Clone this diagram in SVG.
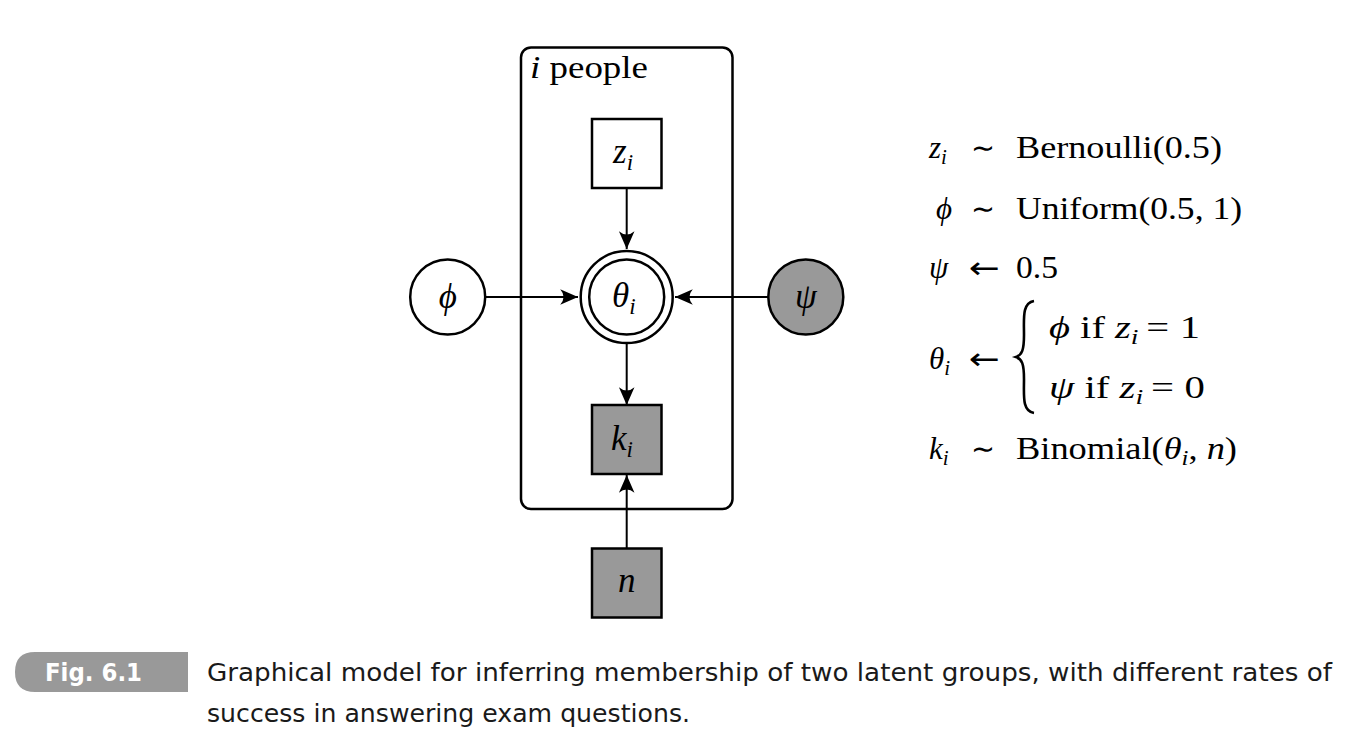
<svg xmlns="http://www.w3.org/2000/svg" width="1354" height="746" viewBox="0 0 1354 746">
<style>
.node{stroke:#000;stroke-width:2.5}
.open{fill:#fff}
.obs{fill:#999}
.edge{stroke:#000;stroke-width:2;fill:none}
.m{font-family:"Liberation Serif","DejaVu Serif",serif;font-size:35px;fill:#000}
.pl{font-family:"Liberation Serif","DejaVu Serif",serif;font-size:32px;fill:#000}
.mi{font-style:italic}
.eq{font-family:"Liberation Serif","DejaVu Serif",serif;font-size:31px;fill:#000}
.sym{font-family:"DejaVu Sans","Liberation Sans",sans-serif;font-size:30px;fill:#000}
.sub{font-size:21px;font-style:italic}
.nsub{font-size:23px;font-style:italic}
.cap{font-family:"DejaVu Sans","Liberation Sans",sans-serif;font-size:24px;fill:#1a1a1a}
</style>
<defs>
<marker id="arr" markerUnits="userSpaceOnUse" markerWidth="20" markerHeight="20" viewBox="-17 -8 18 16" refX="0" refY="0" orient="auto">
<path d="M0,0 L-16,-7 Q-10,0 -16,7 Z" fill="#000"/>
</marker>
</defs>
<rect id="bg" x="0" y="0" width="1354" height="746" fill="#fff"/>

<g id="plate">
<rect x="521" y="47.5" width="211.5" height="461.5" rx="10" fill="none" stroke="#000" stroke-width="2.5"/>
<text x="530" y="78" class="pl" textLength="118" lengthAdjust="spacingAndGlyphs"><tspan class="mi">i</tspan><tspan dx="8">people</tspan></text>
</g>

<g id="edges">
<line class="edge" x1="626.7" y1="188" x2="626.7" y2="249" marker-end="url(#arr)"/>
<line class="edge" x1="485.5" y1="297" x2="578" y2="297" marker-end="url(#arr)"/>
<line class="edge" x1="768" y1="297" x2="675" y2="297" marker-end="url(#arr)"/>
<line class="edge" x1="626.7" y1="343.5" x2="626.7" y2="405" marker-end="url(#arr)"/>
<line class="edge" x1="626.7" y1="548" x2="626.7" y2="475" marker-end="url(#arr)"/>
</g>

<g id="z">
<rect class="node open" x="592" y="119" width="69.5" height="69"/>
<text x="613" y="163" class="m mi">z<tspan class="nsub" dy="7">i</tspan></text>
</g>

<g id="theta">
<circle class="node open" cx="626.7" cy="297" r="46"/>
<circle class="node open" cx="626.7" cy="297" r="37.5"/>
<text x="612" y="307" class="m mi">θ<tspan class="nsub" dy="7">i</tspan></text>
</g>

<g id="phi">
<circle class="node open" cx="447.7" cy="297" r="37.5"/>
<text x="447.7" y="308" class="m mi" text-anchor="middle">ϕ</text>
</g>

<g id="psi">
<circle class="node obs" cx="805.8" cy="297" r="37.5"/>
<text x="805.8" y="308" class="m mi" text-anchor="middle">ψ</text>
</g>

<g id="k">
<rect class="node obs" x="592" y="405" width="69.5" height="69"/>
<text x="611" y="450" class="m mi">k<tspan class="nsub" dy="7">i</tspan></text>
</g>

<g id="n">
<rect class="node obs" x="592" y="548.5" width="69.5" height="69"/>
<text x="626.7" y="592" class="m mi" text-anchor="middle">n</text>
</g>

<g id="equations">
<text x="929" y="158" class="eq"><tspan class="mi">z</tspan><tspan class="sub" dy="6">i</tspan></text>
<text x="971" y="158" class="sym" textLength="24" lengthAdjust="spacingAndGlyphs">∼</text>
<text x="1016" y="158" class="eq" textLength="206" lengthAdjust="spacingAndGlyphs">Bernoulli(0.5)</text>

<text x="936" y="219" class="eq mi">ϕ</text>
<text x="971" y="219" class="sym" textLength="24" lengthAdjust="spacingAndGlyphs">∼</text>
<text x="1016" y="219" class="eq" textLength="226" lengthAdjust="spacingAndGlyphs">Uniform(0.5, 1)</text>

<text x="929" y="278" class="eq mi">ψ</text>
<text x="969" y="278" class="sym" textLength="31" lengthAdjust="spacingAndGlyphs">←</text>
<text x="1016" y="278" class="eq" textLength="42" lengthAdjust="spacingAndGlyphs">0.5</text>

<text x="929" y="369" class="eq"><tspan class="mi">θ</tspan><tspan class="sub" dy="6">i</tspan></text>
<text x="969" y="369" class="sym" textLength="31" lengthAdjust="spacingAndGlyphs">←</text>
<path d="M1034,301 C1022,303 1024,318 1024,335 C1024,350 1022,355 1016,357 C1022,359 1024,364 1024,379 C1024,396 1022,411 1034,413" fill="none" stroke="#000" stroke-width="2.6"/>
<text x="1049" y="338" class="eq" textLength="151" lengthAdjust="spacingAndGlyphs"><tspan class="mi">ϕ</tspan> if <tspan class="mi">z</tspan><tspan class="sub" dy="6">i</tspan><tspan dy="-6" dx="6">=</tspan><tspan dx="8">1</tspan></text>
<text x="1049" y="398" class="eq" textLength="156" lengthAdjust="spacingAndGlyphs"><tspan class="mi">ψ</tspan> if <tspan class="mi">z</tspan><tspan class="sub" dy="6">i</tspan><tspan dy="-6" dx="6">=</tspan><tspan dx="8">0</tspan></text>

<text x="929" y="459" class="eq"><tspan class="mi">k</tspan><tspan class="sub" dy="6">i</tspan></text>
<text x="971" y="459" class="sym" textLength="24" lengthAdjust="spacingAndGlyphs">∼</text>
<text x="1016" y="459" class="eq" textLength="221" lengthAdjust="spacingAndGlyphs">Binomial(<tspan class="mi">θ</tspan><tspan class="sub" dy="6">i</tspan><tspan dy="-6">, </tspan><tspan class="mi">n</tspan>)</text>
</g>

<g id="caption">
<path d="M188,652 L35,652 Q15,652 15,672 L15,672 Q15,692 35,692 L188,692 Z" fill="#999"/>
<text x="45" y="681" font-family="DejaVu Sans,Liberation Sans,sans-serif" font-size="25" font-weight="bold" fill="#fff" textLength="97" lengthAdjust="spacingAndGlyphs">Fig. 6.1</text>
<text x="207" y="681" class="cap" textLength="1125" lengthAdjust="spacingAndGlyphs">Graphical model for inferring membership of two latent groups, with different rates of</text>
<text x="207" y="722" class="cap" textLength="483" lengthAdjust="spacingAndGlyphs">success in answering exam questions.</text>
</g>
</svg>
